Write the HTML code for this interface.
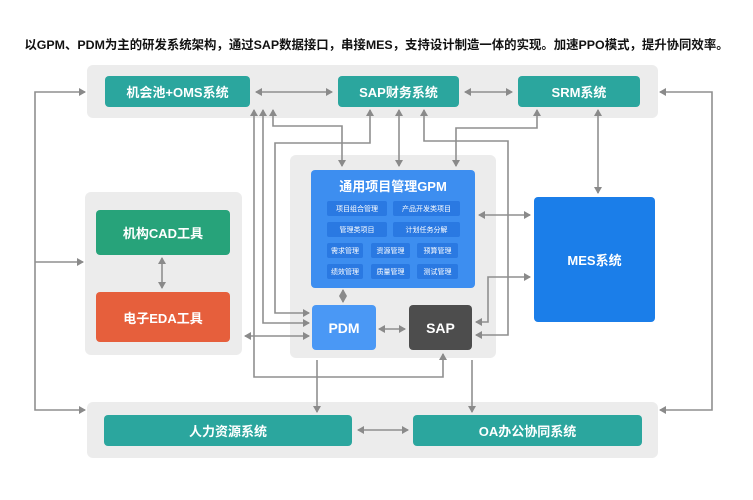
<!DOCTYPE html>
<html><head><meta charset="utf-8"><style>
body{margin:0;width:753px;height:500px;background:#fff;position:relative;overflow:hidden;font-family:"Liberation Sans","Noto Sans CJK SC",sans-serif}
.a{position:absolute;box-sizing:border-box}
.p{background:#ececec;border-radius:6px}
.b{color:#fff;font-weight:bold;display:flex;align-items:center;justify-content:center;border-radius:4px;font-size:13px}
.t{background:#2ba69e}
.c{background:#2a79e2;color:#fff;font-size:7px;display:flex;align-items:center;justify-content:center;border-radius:2px;height:15px}
svg{position:absolute;left:0;top:0}
</style></head><body>
<div class="a" style="left:0;width:753px;top:35px;text-align:center;font-size:12.4px;font-weight:bold;color:#111;white-space:nowrap">以GPM、PDM为主的研发系统架构，通过SAP数据接口，串接MES，支持设计制造一体的实现。加速PPO模式，提升协同效率。</div>
<div class="a p" style="left:87px;top:65px;width:571px;height:53px"></div>
<div class="a p" style="left:290px;top:155px;width:206px;height:203px"></div>
<div class="a p" style="left:85px;top:192px;width:157px;height:163px"></div>
<div class="a p" style="left:87px;top:402px;width:571px;height:56px"></div>
<div class="a b t" style="left:105px;top:76px;width:145px;height:31px">机会池+OMS系统</div>
<div class="a b t" style="left:338px;top:76px;width:121px;height:31px">SAP财务系统</div>
<div class="a b t" style="left:518px;top:76px;width:122px;height:31px">SRM系统</div>
<div class="a b" style="left:96px;top:210px;width:134px;height:45px;background:#27a37a">机构CAD工具</div>
<div class="a b" style="left:96px;top:292px;width:134px;height:50px;background:#e65f3c">电子EDA工具</div>
<div class="a b" style="left:534px;top:197px;width:121px;height:125px;background:#1b7ee9">MES系统</div>
<div class="a b t" style="left:104px;top:415px;width:248px;height:31px">人力资源系统</div>
<div class="a b t" style="left:413px;top:415px;width:229px;height:31px">OA办公协同系统</div>
<div class="a" style="left:311px;top:170px;width:164px;height:118px;background:#3d8ef0;border-radius:4px"></div>
<div class="a" style="left:311px;top:176px;width:164px;text-align:center;color:#fff;font-weight:bold;font-size:13px">通用项目管理GPM</div>
<div class="a c" style="left:327px;top:201px;width:60px">项目组合管理</div>
<div class="a c" style="left:393px;top:201px;width:67px">产品开发类项目</div>
<div class="a c" style="left:327px;top:222px;width:60px">管理类项目</div>
<div class="a c" style="left:393px;top:222px;width:67px">计划任务分解</div>
<div class="a c" style="left:327px;top:243px;width:36px">需求管理</div>
<div class="a c" style="left:371px;top:243px;width:39px">资源管理</div>
<div class="a c" style="left:417px;top:243px;width:41px">预算管理</div>
<div class="a c" style="left:327px;top:264px;width:36px">绩效管理</div>
<div class="a c" style="left:371px;top:264px;width:39px">质量管理</div>
<div class="a c" style="left:417px;top:264px;width:41px">测试管理</div>
<div class="a b" style="left:312px;top:305px;width:64px;height:45px;background:#4a98f5;font-size:14px">PDM</div>
<div class="a b" style="left:409px;top:305px;width:63px;height:45px;background:#4d4d4d;font-size:14px">SAP</div>
<svg width="753" height="500" viewBox="0 0 753 500">
<defs><marker id="m" markerWidth="8" markerHeight="8" refX="6" refY="4" orient="auto-start-reverse" markerUnits="userSpaceOnUse"><path d="M0,0 L7,4 L0,8 Z" fill="#8a8a8a"/></marker></defs>
<g stroke="#8f8f8f" stroke-width="1.6" fill="none">
<polyline points="85,92 35,92 35,410 85,410" marker-start="url(#m)" marker-end="url(#m)"/>
<line x1="35" y1="262" x2="83" y2="262" marker-end="url(#m)"/>
<polyline points="660,92 712,92 712,410 660,410" marker-start="url(#m)" marker-end="url(#m)"/>
<line x1="256" y1="92" x2="332" y2="92" marker-start="url(#m)" marker-end="url(#m)"/>
<line x1="465" y1="92" x2="512" y2="92" marker-start="url(#m)" marker-end="url(#m)"/>
<polyline points="254,110 254,377 443,377 443,354" marker-start="url(#m)" marker-end="url(#m)"/>
<polyline points="263,110 263,323 309,323" marker-start="url(#m)" marker-end="url(#m)"/>
<polyline points="273,110 273,126 342,126 342,166" marker-start="url(#m)" marker-end="url(#m)"/>
<polyline points="370,110 370,143 275,143 275,313 309,313" marker-start="url(#m)" marker-end="url(#m)"/>
<line x1="399" y1="110" x2="399" y2="166" marker-start="url(#m)" marker-end="url(#m)"/>
<polyline points="424,110 424,141 508,141 508,335 476,335" marker-start="url(#m)" marker-end="url(#m)"/>
<polyline points="537,110 537,128 456,128 456,166" marker-start="url(#m)" marker-end="url(#m)"/>
<line x1="598" y1="110" x2="598" y2="193" marker-start="url(#m)" marker-end="url(#m)"/>
<line x1="479" y1="215" x2="530" y2="215" marker-start="url(#m)" marker-end="url(#m)"/>
<polyline points="530,277 488,277 488,322 476,322" marker-start="url(#m)" marker-end="url(#m)"/>
<line x1="343" y1="290" x2="343" y2="302" marker-start="url(#m)" marker-end="url(#m)"/>
<line x1="379" y1="329" x2="405" y2="329" marker-start="url(#m)" marker-end="url(#m)"/>
<line x1="245" y1="336" x2="309" y2="336" marker-start="url(#m)" marker-end="url(#m)"/>
<line x1="162" y1="258" x2="162" y2="288" marker-start="url(#m)" marker-end="url(#m)"/>
<line x1="317" y1="360" x2="317" y2="412" marker-end="url(#m)"/>
<line x1="472" y1="360" x2="472" y2="412" marker-end="url(#m)"/>
<line x1="358" y1="430" x2="408" y2="430" marker-start="url(#m)" marker-end="url(#m)"/>
</g></svg>
</body></html>
